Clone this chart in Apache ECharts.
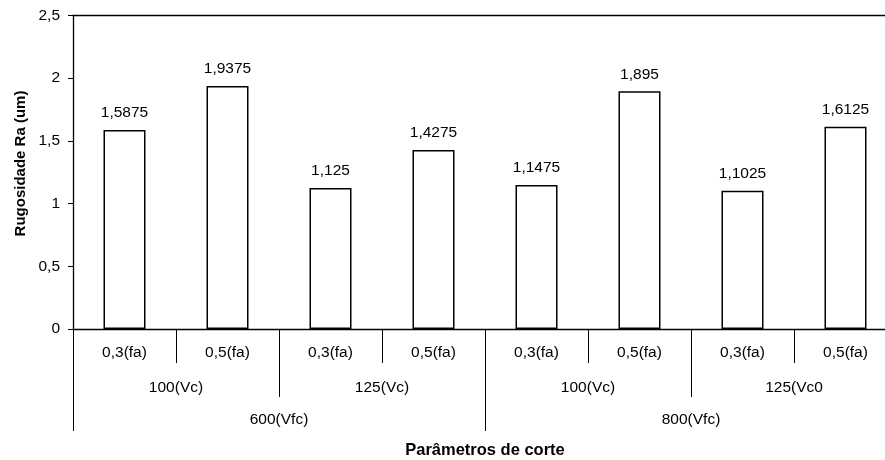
<!DOCTYPE html>
<html><head><meta charset="utf-8">
<script src="https://cdn.jsdelivr.net/npm/echarts@6/dist/echarts.min.js"></script>
<style>html,body{margin:0;padding:0;background:#fff;overflow:hidden;width:885px;height:460px}#c{width:900px;height:460px}</style>
</head><body><div id="c"></div>
<script>
const feedLabels = ['0,3(fa)','0,5(fa)','0,3(fa)','0,5(fa)','0,3(fa)','0,5(fa)','0,3(fa)','0,5(fa)'];
const speedLabels = ['100(Vc)','125(Vc)','100(Vc)','125(Vc0'];
const spindleLabels = ['600(Vfc)','800(Vfc)'];
const raValues = [1.5875, 1.9375, 1.125, 1.4275, 1.1475, 1.895, 1.1025, 1.6125];
const yTicks = [0, 0.5, 1, 1.5, 2, 2.5];

const font = 'Liberation Sans, Arial, sans-serif';
const fs = 15.5;
const comma = v => String(v).replace('.', ',');
const chart = echarts.init(document.getElementById('c'));
chart.setOption({
  animation: false,
  backgroundColor: '#fff',
  grid: {left: 73, right: 3, top: 15.5, bottom: 131, containLabel: false},
  xAxis: [
    {type: 'category', data: feedLabels, position: 'bottom',
     axisLine: {show: true, lineStyle: {color: '#000', width: 1.3}},
     axisTick: {show: true, length: 34, lineStyle: {color: '#000', width: 1}},
     axisLabel: {margin: 16, color: '#000', fontFamily: font, fontSize: fs}},
    {type: 'category', data: speedLabels, position: 'bottom',
     axisLine: {show: false},
     axisTick: {show: true, length: 68, lineStyle: {color: '#000', width: 1}},
     axisLabel: {margin: 51, color: '#000', fontFamily: font, fontSize: fs}},
    {type: 'category', data: spindleLabels, position: 'bottom',
     axisLine: {show: false},
     axisTick: {show: true, length: 102, lineStyle: {color: '#000', width: 1}},
     axisLabel: {margin: 83, color: '#000', fontFamily: font, fontSize: fs}},
    {type: 'category', data: feedLabels, position: 'top',
     axisLine: {show: true, lineStyle: {color: '#000', width: 1.3}},
     axisTick: {show: false}, axisLabel: {show: false}}
  ],
  yAxis: {type: 'value', min: yTicks[0], max: yTicks[yTicks.length - 1], interval: 0.5,
    axisLine: {show: true, lineStyle: {color: '#000', width: 1.3}},
    axisTick: {show: true, length: 5, lineStyle: {color: '#000'}},
    splitLine: {show: false},
    axisLabel: {margin: 13, color: '#000', fontFamily: font, fontSize: fs, formatter: v => comma(v)}},
  graphic: [
    {type: 'text', x: 485, y: 450,
     style: {text: 'Parâmetros de corte', fill: '#000', align: 'center', verticalAlign: 'middle',
       font: 'bold 16.5px Liberation Sans, Arial, sans-serif'}},
    {type: 'text', x: 20.5, y: 163.5, rotation: Math.PI / 2,
     style: {text: 'Rugosidade Ra (um)', fill: '#000', align: 'center', verticalAlign: 'middle',
       font: 'bold 15px Liberation Sans, Arial, sans-serif'}}
  ],
  series: [{type: 'bar', data: raValues, barWidth: 42, xAxisIndex: 0,
    itemStyle: {color: '#fff', borderColor: '#000', borderWidth: 1.5},
    label: {show: true, position: 'top', distance: 9, color: '#000', fontFamily: font, fontSize: fs,
      formatter: p => comma(p.value)}}]
});
</script></body></html>
